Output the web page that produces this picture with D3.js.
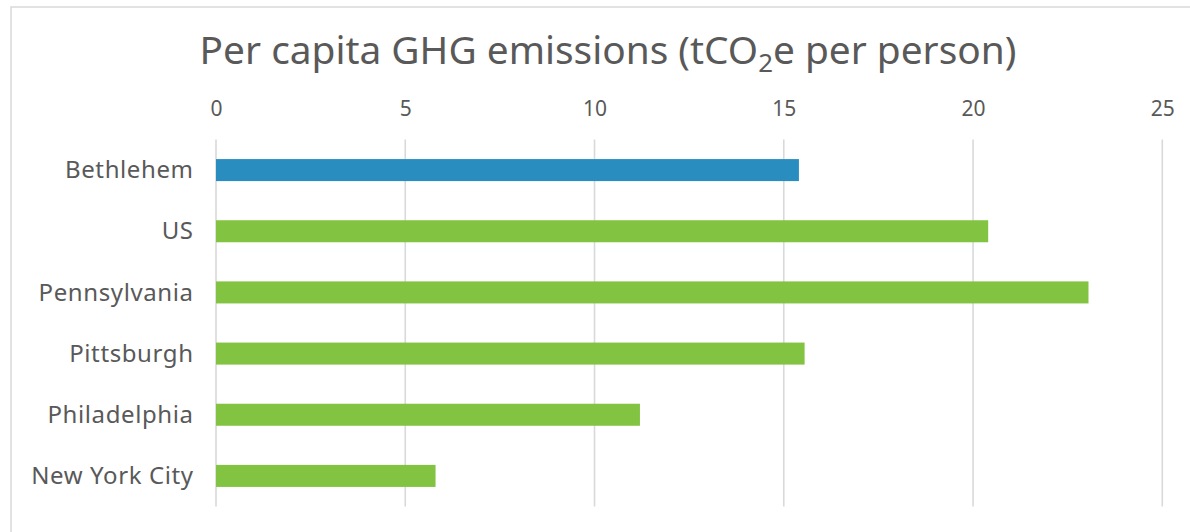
<!DOCTYPE html>
<html>
<head>
<meta charset="utf-8">
<script src="https://cdn.jsdelivr.net/npm/d3@7"></script>
<style>
  html, body { margin: 0; padding: 0; background: #fff; }
  svg { display: block; }
  text { font-family: "Noto Sans", "Open Sans", sans-serif; fill: #595959; }
</style>
</head>
<body>
<svg id="chart" width="1190" height="532"></svg>
<script>
const categories = ["Bethlehem", "US", "Pennsylvania", "Pittsburgh", "Philadelphia", "New York City"];
const values = [15.4, 20.4, 23.05, 15.55, 11.2, 5.8];
const barColors = ["#2a8dc0", "#82c341", "#82c341", "#82c341", "#82c341", "#82c341"];
const tickValues = [0, 5, 10, 15, 20, 25];
const titleMain = "Per capita GHG emissions (tCO";
const titleSub = "2";
const titleEnd = "e per person)";

const W = 1190, H = 532;
const margin = { top: 139.5, right: 28, bottom: 25.5, left: 216 };
const svg = d3.select("#chart");

// outer frame
svg.append("rect")
  .attr("x", 11).attr("y", 7)
  .attr("width", W + 20).attr("height", H + 20)
  .attr("fill", "none").attr("stroke", "#d9d9d9").attr("stroke-width", 1.5);

const x = d3.scaleLinear().domain([0, 25]).range([margin.left, 1162.3]);
const y = d3.scaleBand().domain(categories)
  .range([margin.top, H - margin.bottom]).paddingInner(0.64).paddingOuter(0.32);

// gridlines
svg.append("g").selectAll("line").data(tickValues).join("line")
  .attr("x1", d => x(d)).attr("x2", d => x(d))
  .attr("y1", margin.top).attr("y2", H - margin.bottom)
  .attr("stroke", "#d9d9d9").attr("stroke-width", 1.6);

// top axis labels
const axis = d3.axisTop(x).tickValues(tickValues).tickSize(0).tickPadding(0);
const gAxis = svg.append("g").attr("transform", "translate(0,116)").call(axis);
gAxis.select(".domain").remove();
gAxis.selectAll("text")
  .attr("font-size", 21)
  .style("font-family", '"Noto Sans", "Open Sans", sans-serif')
  .attr("fill", "#595959").attr("dy", 0);

// category labels
const yAxis = d3.axisLeft(y).tickSize(0).tickPadding(23);
const gY = svg.append("g").attr("transform", `translate(${margin.left},0)`).call(yAxis);
gY.select(".domain").remove();
gY.selectAll("text")
  .attr("font-size", 24)
  .attr("letter-spacing", 0.6)
  .attr("dx", 0.6)
  .attr("dy", "0.34em")
  .style("font-family", '"Noto Sans", "Open Sans", sans-serif')
  .attr("fill", "#595959");

// bars
svg.append("g").selectAll("rect").data(categories).join("rect")
  .attr("x", x(0))
  .attr("y", d => y(d))
  .attr("width", (d, i) => x(values[i]) - x(0))
  .attr("height", y.bandwidth())
  .attr("fill", (d, i) => barColors[i]);

// title
const title = svg.append("text")
  .attr("x", 608).attr("y", 64)
  .attr("text-anchor", "middle")
  .attr("font-size", 36);
title.append("tspan").text(titleMain);
title.append("tspan").text(titleSub).attr("font-size", 24).attr("dy", 8);
title.append("tspan").text(titleEnd).attr("dy", -8);
// fit title to reference width
const tw = title.node().getComputedTextLength();
const target = 817;
const s = target / tw;
title.attr("font-size", 36 * s);
title.select("tspan:nth-child(2)").attr("font-size", 24 * s);
</script>
</body>
</html>
